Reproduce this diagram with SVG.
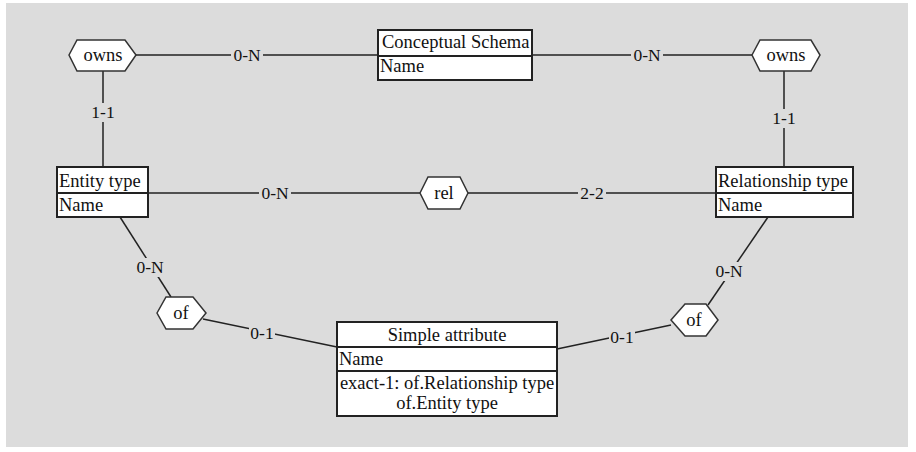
<svg xmlns="http://www.w3.org/2000/svg" width="916" height="452" viewBox="0 0 916 452" font-family="'Liberation Serif', 'DejaVu Serif', serif">
  <style>
    text { font-family: "Liberation Serif", "DejaVu Serif", serif; font-size: 18.5px; fill: #111; }
    .box { fill: #fff; stroke: #222; stroke-width: 2; }
    .div { stroke: #222; stroke-width: 2; }
    .hex { fill: #fff; stroke: #333; stroke-width: 1.5; }
    .edge { stroke: #222; stroke-width: 1.5; fill: none; }
    .gap { fill: #dcdcdc; }
    .mid { text-anchor: middle; }
    .card { text-anchor: middle; font-size: 17.5px; }
  </style>

  <rect x="0" y="0" width="916" height="452" fill="#fff"/>
  <rect x="6" y="3" width="902" height="444" fill="#dcdcdc"/>

  <!-- connectors; each cardinality sits on a patch of background that cuts the line -->
  <g id="connectors">
    <line class="edge" x1="136" y1="55" x2="378" y2="55"/>
    <rect class="gap" x="231" y="46" width="32" height="18"/>
    <text class="card" x="247" y="61">0-N</text>

    <line class="edge" x1="532" y1="55" x2="752" y2="55"/>
    <rect class="gap" x="631" y="46" width="32" height="18"/>
    <text class="card" x="647" y="61">0-N</text>

    <line class="edge" x1="103" y1="71" x2="103" y2="167"/>
    <rect class="gap" x="91" y="103" width="24" height="19"/>
    <text class="card" x="103" y="118">1-1</text>

    <line class="edge" x1="784" y1="71" x2="784" y2="167"/>
    <rect class="gap" x="772" y="109" width="24" height="19"/>
    <text class="card" x="784" y="124">1-1</text>

    <line class="edge" x1="148" y1="193" x2="420" y2="193"/>
    <rect class="gap" x="259" y="184" width="32" height="18"/>
    <text class="card" x="275" y="199">0-N</text>

    <line class="edge" x1="468" y1="193" x2="716" y2="193"/>
    <rect class="gap" x="578" y="184" width="28" height="18"/>
    <text class="card" x="592" y="199">2-2</text>

    <line class="edge" x1="120" y1="217" x2="171" y2="297"/>
    <rect class="gap" x="135" y="258" width="30" height="19"/>
    <text class="card" x="150" y="273">0-N</text>

    <line class="edge" x1="203" y1="319" x2="337" y2="347"/>
    <rect class="gap" x="249" y="324" width="26" height="19"/>
    <text class="card" x="262" y="339">0-1</text>

    <line class="edge" x1="557" y1="349" x2="671" y2="325"/>
    <rect class="gap" x="609" y="328" width="26" height="19"/>
    <text class="card" x="622" y="343">0-1</text>

    <line class="edge" x1="768" y1="217" x2="708" y2="305"/>
    <rect class="gap" x="714" y="262" width="30" height="19"/>
    <text class="card" x="729" y="277">0-N</text>
  </g>

  <!-- entity types -->
  <g id="conceptual-schema">
    <rect class="box" x="378" y="30" width="154" height="50"/>
    <line class="div" x1="378" y1="56" x2="532" y2="56"/>
    <text x="382" y="48">Conceptual Schema</text>
    <text x="380" y="72">Name</text>
  </g>

  <g id="entity-type">
    <rect class="box" x="57" y="167" width="91" height="50"/>
    <line class="div" x1="57" y1="193" x2="148" y2="193"/>
    <text x="59" y="187">Entity type</text>
    <text x="59" y="211">Name</text>
  </g>

  <g id="relationship-type">
    <rect class="box" x="716" y="167" width="137" height="50"/>
    <line class="div" x1="716" y1="193" x2="853" y2="193"/>
    <text x="718" y="187">Relationship type</text>
    <text x="718" y="211">Name</text>
  </g>

  <g id="simple-attribute">
    <rect class="box" x="337" y="322" width="220" height="94"/>
    <line class="div" x1="337" y1="347" x2="557" y2="347"/>
    <line class="div" x1="337" y1="371" x2="557" y2="371"/>
    <text class="mid" x="447" y="341">Simple attribute</text>
    <text x="339" y="365">Name</text>
    <text class="mid" x="447" y="389">exact-1: of.Relationship type</text>
    <text class="mid" x="447" y="409">of.Entity type</text>
  </g>

  <!-- relationship types -->
  <g id="owns-entity">
    <polygon class="hex" points="69,55 77,40 125,40 136,55 125,71 77,71"/>
    <text class="mid" x="103" y="61">owns</text>
  </g>

  <g id="owns-relationship">
    <polygon class="hex" points="752,55 760,40 811,40 820,55 811,71 760,71"/>
    <text class="mid" x="786" y="61">owns</text>
  </g>

  <g id="rel">
    <polygon class="hex" points="420,193 428,177 460,177 468,193 460,209 428,209"/>
    <text class="mid" x="444" y="199">rel</text>
  </g>

  <g id="of-entity">
    <polygon class="hex" points="157,313 166,297 193,297 206,313 193,329 166,329"/>
    <text class="mid" x="181" y="319">of</text>
  </g>

  <g id="of-relationship">
    <polygon class="hex" points="671,320 685,304 706,304 718,320 706,336 685,336"/>
    <text class="mid" x="694" y="326">of</text>
  </g>
</svg>
